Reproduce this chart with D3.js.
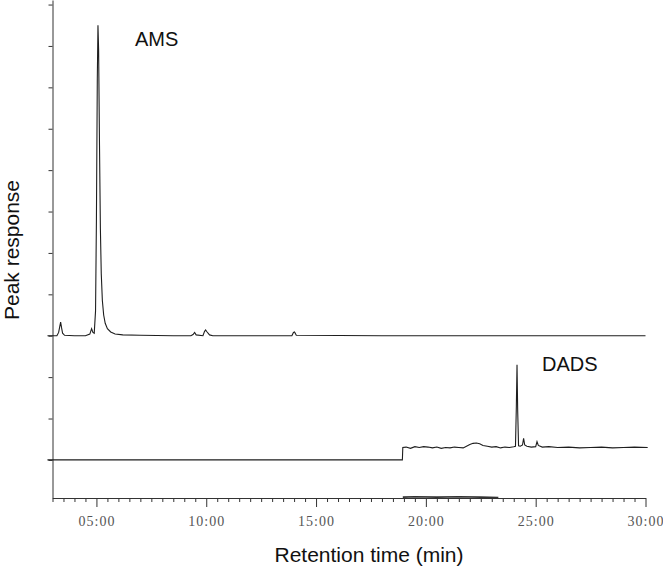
<!DOCTYPE html>
<html>
<head>
<meta charset="utf-8">
<script src="https://cdn.jsdelivr.net/npm/d3@7"></script>
<style>
  body { margin: 0; background: #fff; }
  .trace { fill: none; stroke: #1e1e1e; stroke-width: 1.1; }
  .axis path, .axis line { stroke: #333; }
  .axis text { font-family: "Liberation Serif", serif; font-size: 14px; fill: #555; letter-spacing: 1px; }
  .lbl { font-family: "Liberation Sans", Arial, sans-serif; fill: #111; }
</style>
</head>
<body>
<div id="chart"></div>
<script>
// AMS trace (time in min, response in tick units above its own baseline)
var amsTime = [2.77, 3.2, 3.28, 3.33, 3.37, 3.41, 3.46, 3.55, 4.0, 4.5, 4.7, 4.78, 4.84, 4.9, 4.96, 5.0, 5.04, 5.07, 5.1, 5.14, 5.18, 5.22, 5.27, 5.33, 5.4, 5.5, 5.65, 5.85, 6.2, 7.0, 8.5, 9.3, 9.4, 9.47, 9.54, 9.85, 9.92, 9.97, 10.04, 10.15, 10.3, 13.9, 13.97, 14.02, 14.1, 18.0, 30.0];
var amsResponse = [0, 0, 0.08, 0.22, 0.33, 0.2, 0.06, 0.01, 0, 0, 0.04, 0.17, 0.08, 0.06, 0.6, 2.8, 6.2, 7.5, 6.9, 4.6, 2.6, 1.5, 0.85, 0.5, 0.3, 0.17, 0.09, 0.04, 0.02, 0.01, 0, 0, 0.03, 0.08, 0.02, 0, 0.1, 0.14, 0.09, 0.02, 0, 0, 0.08, 0.09, 0.01, 0, 0];
var amsOffset = 3;

// DADS trace
var dadsTime = [2.77, 18.93, 18.95, 19.1, 19.3, 19.5, 19.7, 19.9, 20.1, 20.3, 20.5, 20.7, 20.9, 21.1, 21.3, 21.5, 21.7, 21.85, 22.0, 22.15, 22.3, 22.45, 22.6, 22.8, 23.0, 23.2, 23.4, 23.6, 23.8, 24.0, 24.08, 24.12, 24.15, 24.18, 24.22, 24.3, 24.4, 24.45, 24.5, 24.6, 24.8, 25.0, 25.06, 25.12, 25.3, 25.6, 26.0, 26.5, 27.0, 27.5, 28.0, 28.5, 29.0, 29.5, 30.1];
var dadsResponse = [0, 0, 0.3, 0.31, 0.28, 0.32, 0.3, 0.32, 0.31, 0.29, 0.31, 0.28, 0.3, 0.29, 0.31, 0.3, 0.29, 0.33, 0.37, 0.4, 0.41, 0.39, 0.35, 0.33, 0.31, 0.32, 0.29, 0.31, 0.3, 0.32, 0.33, 1.3, 2.3, 1.2, 0.34, 0.33, 0.36, 0.52, 0.36, 0.33, 0.31, 0.32, 0.44, 0.35, 0.31, 0.32, 0.3, 0.31, 0.29, 0.3, 0.31, 0.29, 0.3, 0.31, 0.3];
var dadsOffset = 0;

// faint trace lying on the time axis
var axisTraceTime = [18.95, 19.5, 20.5, 21.5, 22.5, 23.3];
var axisTraceResponse = [0.02, 0.03, 0.02, 0.03, 0.02, 0.01];
var axisTraceOffset = -0.92;

var yTicks = [0, 1, 2, 3, 4, 5, 6, 7, 8, 9, 10, 11];
var majorTicks = [5, 10, 15, 20, 25, 30];
var minorTicks = [3, 3.5, 4, 4.5, 5.5, 6, 6.5, 7, 7.5, 8, 8.5, 9, 9.5, 10.5, 11, 11.5, 12, 12.5, 13, 13.5, 14, 14.5, 15.5, 16, 16.5, 17, 17.5, 18, 18.5, 19, 19.5, 20.5, 21, 21.5, 22, 22.5, 23, 23.5, 24, 24.5, 25.5, 26, 26.5, 27, 27.5, 28, 28.5, 29, 29.5];

var width = 663, height = 570;

var svg = d3.select("#chart").append("svg")
    .attr("width", width)
    .attr("height", height);

var x = d3.scaleLinear().domain([3, 30]).range([52.5, 645.5]);
var y = d3.scaleLinear().domain([-0.92, 11.11]).range([498, 0]);

// axes
svg.append("g")
    .attr("class", "axis")
    .attr("transform", "translate(52.5,0)")
    .call(d3.axisLeft(y).tickValues(yTicks).tickSize(4).tickSizeOuter(0).tickFormat(""));

svg.append("g")
    .attr("class", "axis")
    .attr("transform", "translate(0,498)")
    .call(d3.axisBottom(x).tickValues(minorTicks).tickSize(4).tickSizeOuter(0).tickFormat(""));

svg.append("g")
    .attr("class", "axis")
    .attr("transform", "translate(0,498)")
    .call(d3.axisBottom(x).tickValues(majorTicks).tickSize(9).tickSizeOuter(0).tickPadding(9)
        .tickFormat(function (d) { return d3.format("02d")(d) + ":00"; }));

// traces
function drawTrace(times, resp, offset, cls) {
    var pts = times.map(function (t, i) { return [t, resp[i] + offset]; });
    var line = d3.line()
        .x(function (d) { return x(d[0]); })
        .y(function (d) { return y(d[1]); });
    svg.append("path")
        .datum(pts)
        .attr("class", "trace " + (cls || ""))
        .attr("d", line);
}

drawTrace(amsTime, amsResponse, amsOffset);
drawTrace(dadsTime, dadsResponse, dadsOffset);
drawTrace(axisTraceTime, axisTraceResponse, axisTraceOffset, "faint");
svg.select(".faint").style("stroke-width", 1.6).style("stroke", "#333");

// labels
svg.append("text").attr("class", "lbl")
    .attr("x", 135).attr("y", 46)
    .style("font-size", "20px")
    .text("AMS");

svg.append("text").attr("class", "lbl")
    .attr("x", 542).attr("y", 371)
    .style("font-size", "20px")
    .text("DADS");

svg.append("text").attr("class", "lbl")
    .attr("text-anchor", "middle")
    .attr("x", 369).attr("y", 562)
    .style("font-size", "21px")
    .text("Retention time (min)");

svg.append("text").attr("class", "lbl")
    .attr("text-anchor", "middle")
    .attr("transform", "translate(19,250) rotate(-90)")
    .style("font-size", "21px")
    .text("Peak response");
</script>
</body>
</html>
